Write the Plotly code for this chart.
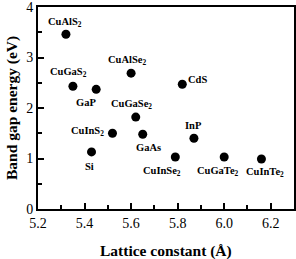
import plotly.graph_objects as go

materials = ["CuAlS<sub>2</sub>", "CuGaS<sub>2</sub>", "GaP", "CuAlSe<sub>2</sub>", "CdS",
             "CuGaSe<sub>2</sub>", "CuInS<sub>2</sub>", "GaAs", "Si", "InP",
             "CuInSe<sub>2</sub>", "CuGaTe<sub>2</sub>", "CuInTe<sub>2</sub>"]
lattice = [5.32, 5.35, 5.45, 5.60, 5.82, 5.62, 5.52, 5.65, 5.43, 5.87, 5.79, 6.00, 6.16]
bandgap = [3.46, 2.43, 2.37, 2.69, 2.47, 1.82, 1.50, 1.48, 1.13, 1.40, 1.03, 1.03, 0.99]
x_title = "Lattice constant (Å)"
y_title = "Band gap energy (eV)"

# label placement (pixel offsets, anchor)
label_dx = [-1, -4, -10, -4, 4, -4, -6, 6, -2, 0, -13, -6, 4]
label_dy = [12, 14, -13, 13, 5, 13, 2, -13, -15, 13, -15, -15, -13]
label_anchor = ["center", "center", "center", "center", "left", "center", "right",
                "center", "center", "center", "center", "center", "center"]

fig = go.Figure()
fig.add_trace(go.Scatter(x=lattice, y=bandgap, mode="markers",
                         marker=dict(color="black", size=9), showlegend=False))

for m, x, y, dx, dy, a in zip(materials, lattice, bandgap, label_dx, label_dy, label_anchor):
    fig.add_annotation(x=x, y=y, text="<b>" + m + "</b>", showarrow=False,
                       xshift=dx, yshift=dy, xanchor=a, yanchor="middle",
                       font=dict(family="Liberation Serif", size=10.5, color="black"))

title_font = dict(family="Liberation Serif", size=15.5, color="black")
fig.add_annotation(xref="paper", yref="paper", x=0.5, y=0, yshift=-42,
                   xanchor="center", yanchor="middle", showarrow=False,
                   text="<b>" + x_title + "</b>", font=title_font)
fig.add_annotation(xref="paper", yref="paper", x=0, y=0.5, xshift=-26,
                   xanchor="center", yanchor="middle", showarrow=False, textangle=-90,
                   text="<b>" + y_title + "</b>", font=title_font)

axis_common = dict(showline=True, linecolor="black", linewidth=2, mirror=True,
                   ticks="inside", ticklen=6, tickwidth=1.5, tickcolor="black",
                   showgrid=False, zeroline=False, automargin=False,
                   ticklabeloverflow="allow",
                   tickfont=dict(family="Liberation Serif", size=14, color="black"))

fig.update_xaxes(range=[5.2, 6.3], dtick=0.2, tick0=5.2, tickformat=".1f",
                 minor=dict(ticks="inside", ticklen=4, dtick=0.1, tickcolor="black", tickwidth=1.5),
                 **axis_common)
fig.update_yaxes(range=[0, 4], dtick=1,
                 minor=dict(ticks="inside", ticklen=4, dtick=0.5, tickcolor="black", tickwidth=1.5),
                 **axis_common)

fig.update_layout(width=296, height=259, margin=dict(l=38, r=2, t=7, b=50),
                  plot_bgcolor="white", paper_bgcolor="white")
fig.write_html("out.html")
